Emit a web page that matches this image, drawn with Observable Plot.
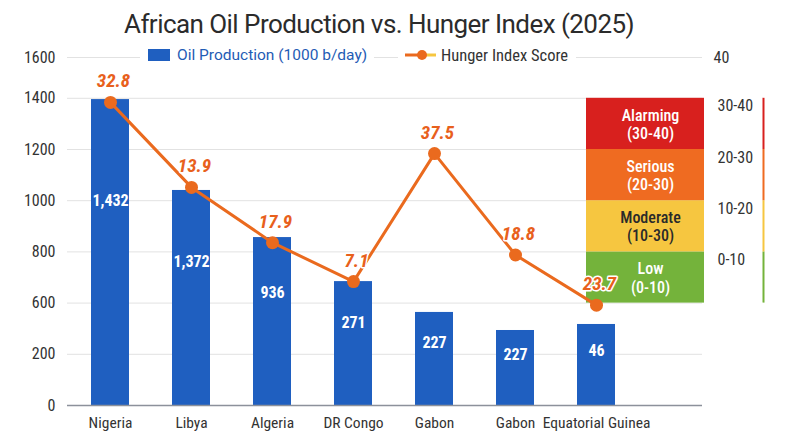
<!DOCTYPE html>
<html>
<head>
<meta charset="utf-8">
<script src="https://cdn.jsdelivr.net/npm/d3@7"></script>
<script src="https://cdn.jsdelivr.net/npm/@observablehq/plot@0.6"></script>
<style>
  html, body { margin: 0; padding: 0; background: #ffffff; }
  body { width: 800px; height: 440px; position: relative; overflow: hidden;
         font-family: Roboto, "Open Sans", sans-serif; font-stretch: condensed; }
  #title { position: absolute; left: 0; top: 7px; width: 758px; text-align: center;
           font-size: 26px; color: #2b2b2b; line-height: 34px; font-stretch: normal; letter-spacing: -0.55px; }
  #chart { position: absolute; left: 0; top: 40px; }
  #chart svg { font-stretch: condensed; }
  .leg { position: absolute; top: 45px; height: 20px; background: #fff; display: flex;
         align-items: center; white-space: nowrap; }
</style>
</head>
<body>
<div id="title">African Oil Production vs. Hunger Index (2025)</div>
<div id="chart"></div>
<div class="leg" id="leg1" style="left:140px;padding:0 7px 0 8px;color:#1f5cb5;font-size:15.5px;font-stretch:normal;">
  <span style="display:inline-block;width:22px;height:12px;background:#1f5fc0;margin-right:7px;"></span>
  <span>Oil Production (1000 b/day)</span>
</div>
<div class="leg" id="leg2" style="left:398px;padding:0 8px 0 7px;color:#333;font-size:16.5px;">
  <svg width="31" height="12" style="margin-right:5px;">
    <line x1="0" y1="6" x2="17" y2="6" stroke="#ea6a1e" stroke-width="3"/>
    <line x1="17" y1="6" x2="31" y2="6" stroke="#f6c640" stroke-width="3"/>
    <circle cx="17" cy="6" r="5" fill="#ea6a1e"/>
  </svg>
  <span>Hunger Index Score</span>
</div>
<script>
// ---- data ----
const countries = ["Nigeria", "Libya", "Algeria", "DR Congo", "Gabon", "Gabon", "Equatorial Guinea"];
const oilProduction = [1395, 1040, 856, 684, 527, 386, 433];
const oilLabels = ["1,432", "1,372", "936", "271", "227", "227", "46"];
const hungerScore = [34.6, 26.3, 20.9, 17.1, 29.6, 19.7, 14.6];
const hungerLabels = ["32.8", "13.9", "17.9", "7.1", "37.5", "18.8", "23.7"];
const yTicks = [0, 200, 600, 800, 1000, 1200, 1400, 1600];
const hungerMax = 40;
const bandNames = ["Low", "Moderate", "Serious", "Alarming"];
const bandRanges = ["(0-10)", "(10-30)", "(20-30)", "(30-40)"];
const bandTicks = ["0-10", "10-20", "20-30", "30-40"];
const bandColors = ["#74b33b", "#f6c640", "#ef6b21", "#d8201e"];

// ---- layout ----
const W = 800, H = 400;
const mL = 67, mR = 98, mT = 17, mB = 35;
const slot = 51.2;
const yRange = yTicks.map((_, i) => i < yTicks.length - 1 ? H - mB - i * slot : mT);
const yPos = d3.scaleLinear(yTicks, yRange);
const toY = d3.scaleLinear([0, hungerMax], [0, yTicks[yTicks.length - 1]]);

const rows = countries.map((c, i) => ({
  i, country: c, oil: oilProduction[i], oilLabel: oilLabels[i],
  hunger: hungerScore[i], hungerLabel: hungerLabels[i],
  labelY: yPos.invert(yPos(0) + (yPos(oilProduction[i]) - yPos(0)) * 0.67)
}));
const bands = bandNames.map((n, k) => ({
  name: n, range: bandRanges[k], tick: bandTicks[k], color: bandColors[k],
  y1: yTicks[k + 2], y2: yTicks[k + 3]
}));

const FONT = 'Roboto, "Open Sans", sans-serif';
const chart = Plot.plot({
  width: W, height: H,
  marginLeft: mL, marginRight: mR, marginTop: mT, marginBottom: mB,
  style: { fontFamily: FONT, fontSize: "15px", background: "transparent", color: "#333" },
  x: { type: "band", domain: d3.range(countries.length), range: [69.5, 636.5],
       paddingInner: 0.53, paddingOuter: 0.265, label: null },
  y: { type: "linear", domain: yTicks, range: yRange, label: null },
  marks: [
    Plot.gridY(yTicks, { stroke: "#e2e2e2", strokeOpacity: 1 }),
    Plot.axisY({ ticks: yTicks, tickFormat: (d) => String(d), tickSize: 0, tickPadding: 12,
                 fontSize: 16, fill: "#333", label: null }),
    Plot.axisY({ anchor: "right", ticks: [toY(hungerMax)], tickFormat: (d) => String(toY.invert(d)),
                 tickSize: 0, tickPadding: 11, fontSize: 16, fill: "#333", label: null }),
    Plot.axisX({ tickFormat: (i) => countries[i], tickSize: 0, tickPadding: 11, fontSize: 15.5,
                 fill: "#333", label: null }),
    Plot.rect(bands, { y1: "y1", y2: "y2", fill: "color", insetLeft: 519, insetRight: -2 }),
    Plot.text(bands, { y: (d) => (d.y1 + d.y2) / 2, text: (d) => d.name + "\n" + d.range,
                       frameAnchor: "right", textAnchor: "middle", dx: -52, fontSize: 16,
                       lineHeight: 1.15, fontWeight: 500,
                       fill: (d) => d.name === "Moderate" ? "#2a2a2a" : "#ffffff" }),
    Plot.ruleX(bands, { x: null, y1: "y1", y2: "y2", stroke: "color", strokeWidth: 2, dx: 378.5 }),
    Plot.text(bands, { y: "y2", text: "tick", frameAnchor: "right", textAnchor: "start",
                       dx: 15, dy: 8, fontSize: 16, fill: "#333" }),
    Plot.barY(rows, { x: "i", y: "oil", fill: "#1f5fc0" }),
    Plot.ruleY([0], { stroke: "#8c919b", strokeWidth: 1.5 }),
    Plot.text(rows, { x: "i", y: "labelY", text: "oilLabel", fill: "white", fontWeight: "bold", fontSize: 16 }),
    Plot.line(rows, { x: "i", y: (d) => toY(d.hunger), stroke: "#ea6a1e", strokeWidth: 3 }),
    Plot.dot(rows, { x: "i", y: (d) => toY(d.hunger), r: 6.5, fill: "#ea6a1e" }),
    Plot.text(rows, { x: "i", y: (d) => toY(d.hunger), text: "hungerLabel", dy: -21, dx: 3,
                      fill: "#e8601c", fontWeight: "bold", fontStyle: "italic", fontSize: 19,
                      stroke: "white", strokeWidth: 3 })
  ]
});
document.getElementById("chart").append(chart);
</script>
</body>
</html>
